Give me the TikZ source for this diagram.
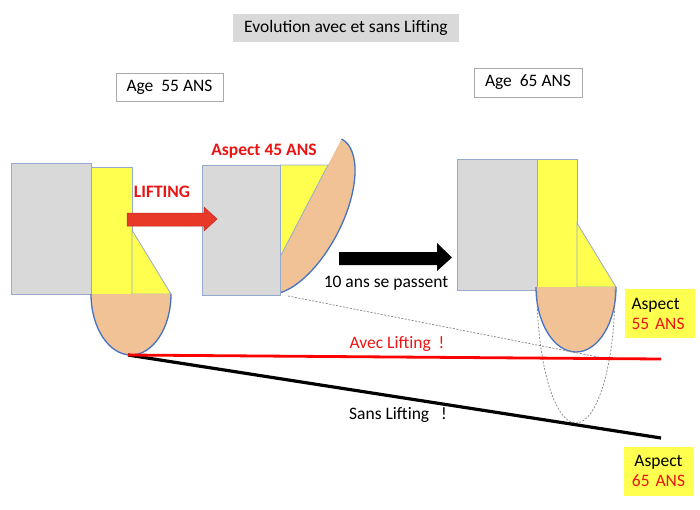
\documentclass[tikz,border=0pt]{standalone}
\usepackage{fontspec}
\setmainfont{Carlito}
\definecolor{titlegray}{RGB}{217,217,217}
\definecolor{boxgray}{RGB}{170,170,170}
\definecolor{shapegray}{RGB}{217,217,217}
\definecolor{edgeblue}{RGB}{150,170,205}
\definecolor{myyellow}{RGB}{255,255,80}
\definecolor{peach}{RGB}{240,194,150}
\definecolor{ellblue}{RGB}{68,114,196}
\definecolor{arrowred}{RGB}{232,56,40}
\definecolor{arrowreddark}{RGB}{195,40,30}
\definecolor{txtred}{RGB}{235,20,20}
\definecolor{dashgray}{RGB}{130,130,130}
\tikzset{
  big/.style={font=\fontsize{17.5}{20}\selectfont},
  shapebox/.style={draw=edgeblue, line width=0.8pt, fill=shapegray},
  yellowbox/.style={draw=edgeblue, line width=0.8pt, fill=myyellow},
  skin/.style={fill=peach},
  skinedge/.style={draw=ellblue, line width=1.3pt},
  dashline/.style={draw=dashgray, line width=0.7pt, dash pattern=on 2pt off 1.5pt},
  aspectbox/.style={fill=myyellow, big, minimum height=49pt, inner xsep=7pt, text width=56pt}
}
\begin{document}
\begin{tikzpicture}[x=1pt,y=-1pt]
\useasboundingbox (0,0) rectangle (700,509);

% title and age boxes
\node[fill=titlegray, minimum width=226pt, minimum height=28pt, inner sep=0pt, big] (title) at (346,28) {Evolution avec et sans Lifting};
\node[draw=boxgray, line width=0.8pt, fill=white, minimum width=107pt, minimum height=28pt, inner sep=0pt, big] (age55) at (169.5,87) {Age\ \ 55 ANS};
\node[draw=boxgray, line width=0.8pt, fill=white, minimum width=108pt, minimum height=29pt, inner sep=0pt, big] (age65) at (528,82.5) {Age\ \ 65 ANS};

% left group
\draw[shapebox] (11,163) rectangle (91,294);
\draw[yellowbox] (91,167) rectangle (132,294);
\draw[yellowbox] (132,230) -- (171,294) -- (132,294) -- cycle;
\fill[skin] (171,294) arc[start angle=0,end angle=180,x radius=40,y radius=61] -- cycle;
\draw[skinedge] (171,294) arc[start angle=0,end angle=180,x radius=40,y radius=61];
\coordinate (chin) at (128,355);

% middle group
\begin{scope}[shift={(301.65,215.5)}, rotate=62.45]
  \fill[skin] (86.3,0) arc[start angle=0,end angle=180,x radius=86.3,y radius=40] -- cycle;
  \draw[skinedge] (86.3,0) arc[start angle=0,end angle=180,x radius=86.3,y radius=40];
\end{scope}
\draw[yellowbox] (280,165) -- (328,165) -- (280,257) -- cycle;
\draw[shapebox] (202,165) rectangle (280,295);

% red arrow
\draw[fill=arrowred, draw=arrowreddark, line width=0.5pt] (127,213) -- (204,213) -- (204,207) -- (217,219) -- (204,231) -- (204,226) -- (127,226) -- cycle;
\node[big, font=\fontsize{17.5}{20}\selectfont\bfseries, text=txtred, inner sep=0pt] (lifting) at (162,192) {LIFTING};
\node[big, font=\fontsize{17.5}{20}\selectfont\bfseries, text=txtred, inner sep=0pt] (asp45) at (264,151) {Aspect 45 ANS};

% black arrow
\fill[black] (339,252) -- (437,252) -- (437,243) -- (452,257.5) -- (437,271) -- (437,265) -- (339,265) -- cycle;
\node[big, inner sep=0pt] (passent) at (386,283) {10 ans se passent};

% right group
\draw[shapebox] (457,159) rectangle (537,290);
\draw[yellowbox] (537,159) rectangle (577,287);
\draw[yellowbox] (577,223) -- (616,287) -- (577,287) -- cycle;
\fill[skin] (616,287) arc[start angle=0,end angle=180,x radius=40,y radius=65] -- cycle;
\draw[skinedge] (616,287) arc[start angle=0,end angle=180,x radius=40,y radius=65];
\draw[dashline] (615,290) arc[start angle=0,end angle=180,x radius=39,y radius=133];

% connectors
\coordinate (d1) at (288,296);
\coordinate (d2) at (603,358);
\draw[dashline] (d1) -- (d2);
\coordinate (sansend) at (661,438);
\coordinate (avecend) at (661,359);
\draw[black, line width=3.2pt] (chin) -- (sansend);
\draw[red, line width=2.8pt] (chin) -- (avecend);
\node[big, text=txtred, inner sep=0pt] (avec) at (397,344) {Avec Lifting\ \ !};
\node[big, inner sep=0pt] (sans) at (398,415) {Sans Lifting\ \ \ !};

% aspect boxes
\node[aspectbox, align=left] (a55) at (659.5,313.5) {Aspect\\\textcolor{txtred}{55 ANS}};
\node[aspectbox, align=center] (a65) at (658.5,471) {Aspect\\\textcolor{txtred}{65 ANS}};
\end{tikzpicture}
\end{document}
